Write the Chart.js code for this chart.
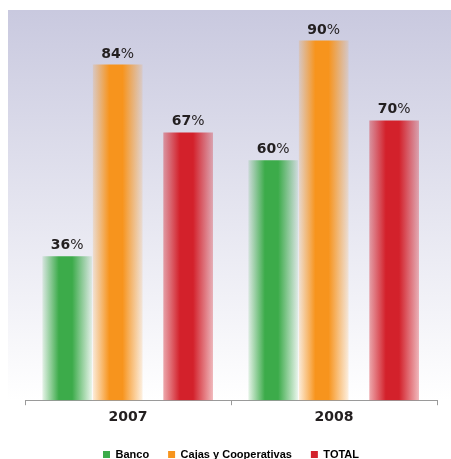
<!DOCTYPE html>
<html>
<head>
<meta charset="utf-8">
<script src="https://cdn.jsdelivr.net/npm/chart.js@4/dist/chart.umd.min.js"></script>
<style>
  html, body { margin: 0; padding: 0; background: #fff; }
  canvas { display: block; }
</style>
</head>
<body>
<canvas id="chart" width="451" height="459"></canvas>
<script>
// Data
const categories = ['2007', '2008'];
const seriesNames = ['Banco', 'Cajas y Cooperativas', 'TOTAL'];
const banco = [36, 60];
const cajas = [84, 90];
const total = [67, 70];

// Look
const seriesColors = ['#3cab4a', '#f7941d', '#d3212b'];
const edgeAlpha = [0.14, 0.18, 0.4];
const seriesOffsets = [0.205, 0.45, 0.792]; // bar centre inside each year slot
const FONT = "'DejaVu Sans', sans-serif";

function hexToRgb(hex) {
    const n = parseInt(hex.slice(1), 16);
    return [(n >> 16) & 255, (n >> 8) & 255, n & 255];
}

function barGradient(ctx, idx) {
    const chart = ctx.chart;
    const color = seriesColors[idx];
    if (!ctx.raw || !chart.chartArea) return color;
    const cx = chart.scales.x.getPixelForValue(ctx.raw.x);
    const w = 49;
    const [r, g, b] = hexToRgb(color);
    const a = edgeAlpha[idx];
    const grad = chart.ctx.createLinearGradient(cx - w / 2, 0, cx + w / 2, 0);
    grad.addColorStop(0, `rgba(${r},${g},${b},${a})`);
    grad.addColorStop(0.33, `rgba(${r},${g},${b},1)`);
    grad.addColorStop(0.6, `rgba(${r},${g},${b},1)`);
    grad.addColorStop(1, `rgba(${r},${g},${b},${a * 0.8})`);
    return grad;
}

function makeDataset(idx, values) {
    return {
        label: seriesNames[idx],
        data: categories.map((c, i) => ({ x: i + seriesOffsets[idx], y: values[i] })),
        backgroundColor: ctx => barGradient(ctx, idx),
        borderWidth: 0,
        barThickness: 49,
        grouped: false
    };
}

// lavender background behind the bars
const backgroundPlugin = {
    id: 'bg',
    beforeDraw(chart) {
        const c = chart.ctx;
        const area = chart.chartArea;
        const top = 10;
        const grad = c.createLinearGradient(0, top, 0, area.bottom);
        grad.addColorStop(0, '#c9c9df');
        grad.addColorStop(0.55, '#e7e7f1');
        grad.addColorStop(1, '#ffffff');
        c.save();
        c.fillStyle = grad;
        c.fillRect(8, top, chart.width - 8, area.bottom - top);
        c.restore();
    }
};

// "84%" labels above the bars
const valueLabels = {
    id: 'valueLabels',
    afterDatasetsDraw(chart) {
        const c = chart.ctx;
        c.save();
        c.fillStyle = '#231f20';
        c.textBaseline = 'middle';
        c.textAlign = 'left';
        chart.data.datasets.forEach((ds, di) => {
            chart.getDatasetMeta(di).data.forEach((bar, i) => {
                const num = String(ds.data[i].y);
                c.font = 'bold 14px ' + FONT;
                const w1 = c.measureText(num).width;
                c.font = '14px ' + FONT;
                const w2 = c.measureText('%').width;
                const x0 = bar.x - (w1 + w2) / 2;
                const y = bar.y - 11;
                c.font = 'bold 14px ' + FONT;
                c.fillText(num, x0, y);
                c.font = '14px ' + FONT;
                c.fillText('%', x0 + w1, y);
            });
        });
        c.restore();
    }
};

const chart = new Chart(document.getElementById('chart'), {
    type: 'bar',
    data: {
        datasets: [
            makeDataset(0, banco),
            makeDataset(1, cajas),
            makeDataset(2, total)
        ]
    },
    options: {
        responsive: false,
        animation: false,
        layout: { padding: { left: 25, right: 14, top: 1, bottom: -11 } },
        plugins: {
            tooltip: { enabled: false },
            legend: {
                position: 'bottom',
                labels: {
                    boxWidth: 7,
                    boxHeight: 7,
                    padding: 19,
                    color: '#333',
                    font: { family: "'Liberation Sans', sans-serif", size: 11, weight: 'bold' },
                    generateLabels: chart => chart.data.datasets.map((ds, i) => ({
                        text: ds.label,
                        fillStyle: seriesColors[i],
                        strokeStyle: seriesColors[i],
                        lineWidth: 0,
                        datasetIndex: i
                    }))
                }
            }
        },
        scales: {
            x: {
                type: 'linear',
                min: 0,
                max: categories.length,
                offset: false,
                afterBuildTicks: scale => {
                    const t = [];
                    for (let i = 0; i <= categories.length * 2; i++) t.push({ value: i / 2 });
                    scale.ticks = t;
                },
                grid: {
                    offset: false,
                    drawOnChartArea: false,
                    tickLength: 5,
                    color: ctx => (ctx.tick && Number.isInteger(ctx.tick.value)) ? '#9a9a9a' : 'rgba(0,0,0,0)'
                },
                border: { color: '#9a9a9a', width: 1 },
                ticks: {
                    autoSkip: false,
                    maxRotation: 0,
                    padding: 4,
                    color: '#231f20',
                    font: { family: FONT, size: 14, weight: 'bold' },
                    callback: v => Number.isInteger(v) ? '' : categories[Math.floor(v)]
                }
            },
            y: {
                display: false,
                min: 0,
                max: 100
            }
        }
    },
    plugins: [backgroundPlugin, valueLabels]
});
</script>
</body>
</html>
